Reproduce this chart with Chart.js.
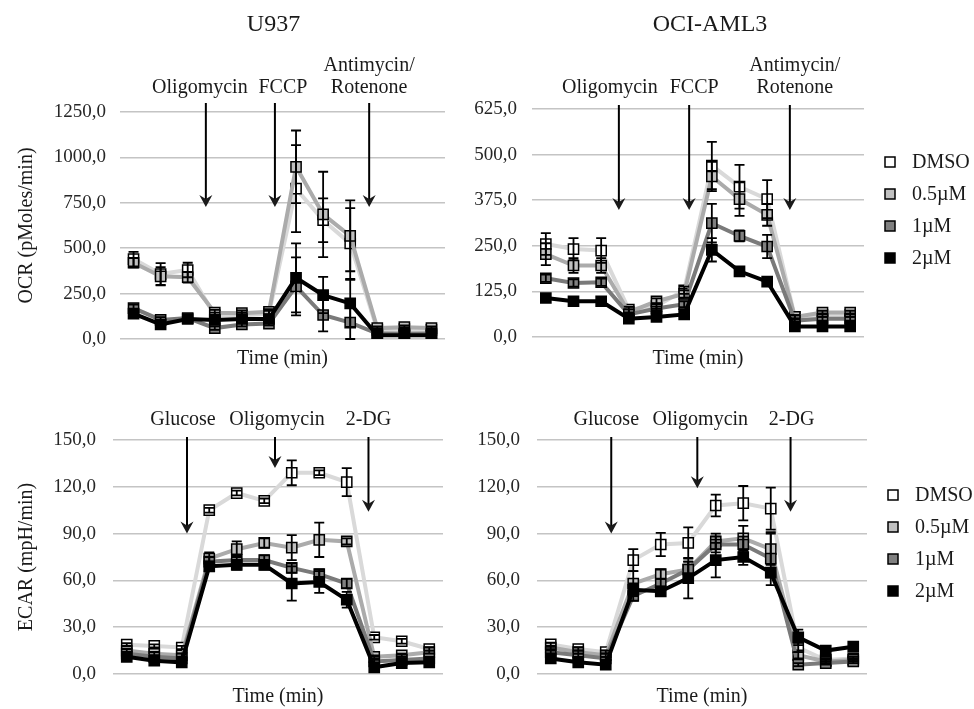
<!DOCTYPE html>
<html>
<head>
<meta charset="utf-8">
<script src="https://cdn.jsdelivr.net/npm/chart.js@4.4.1/dist/chart.umd.min.js"></script>
<style>
  body { margin: 0; background: #fff; }
  #figure { position: relative; width: 974px; height: 709px; background: #fff; }
  #figure canvas { position: absolute; }
</style>
</head>
<body>
<div id="figure">
  <canvas id="ocrU937" width="470" height="372" style="left:0;top:0"></canvas>
  <canvas id="ocrOci" width="504" height="372" style="left:470px;top:0"></canvas>
  <canvas id="ecarU937" width="470" height="337" style="left:0;top:372px"></canvas>
  <canvas id="ecarOci" width="504" height="337" style="left:470px;top:372px"></canvas>
</div>
<script>
// measurement cycles (x axis, not labelled in the figure)
const measurements = ['1', '2', '3', '4', '5', '6', '7', '8', '9', '10', '11', '12'];
const treatmentNames = ['DMSO', '0.5µM', '1µM', '2µM'];

// OCR, U937
const ocrU937Dmso = [440, 358, 380, 130, 130, 140, 828, 654, 526, 50, 55, 50];
const ocrU937Half = [420, 345, 340, 145, 142, 150, 948, 686, 568, 60, 65, 60];
const ocrU937One  = [170, 105, 115, 60, 80, 85, 290, 132, 90, 30, 30, 30];
const ocrU937Two  = [140, 80, 110, 105, 110, 110, 337, 242, 196, 20, 20, 20];
const ocrU937DmsoErr = [40, 60, 40, 15, 15, 15, 240, 120, 195, 10, 10, 10];
const ocrU937HalfErr = [25, 50, 30, 15, 15, 15, 200, 235, 195, 10, 10, 10];
const ocrU937OneErr  = [20, 15, 15, 10, 10, 10, 160, 90, 90, 5, 5, 5];
const ocrU937TwoErr  = [20, 15, 15, 10, 10, 10, 190, 100, 130, 5, 5, 5];
const ocrU937Ticks = [0, 250, 500, 750, 1000, 1250];

// OCR, OCI-AML3
const ocrOciDmso = [255, 241, 237, 75, 85, 128, 470, 412, 378, 55, 60, 60];
const ocrOciHalf = [227, 196, 196, 68, 98, 118, 440, 378, 335, 55, 67, 67];
const ocrOciOne  = [161, 148, 150, 62, 78, 90, 312, 277, 248, 45, 50, 50];
const ocrOciTwo  = [107, 98, 98, 50, 55, 62, 239, 180, 152, 29, 29, 29];
const ocrOciDmsoErr = [30, 30, 34, 8, 8, 10, 65, 60, 52, 5, 5, 5];
const ocrOciHalfErr = [30, 20, 20, 8, 8, 10, 40, 46, 30, 5, 5, 5];
const ocrOciOneErr  = [10, 10, 10, 5, 5, 8, 53, 15, 32, 5, 5, 5];
const ocrOciTwoErr  = [10, 10, 10, 5, 5, 5, 32, 10, 10, 3, 3, 3];
const ocrOciTicks = [0, 125, 250, 375, 500, 625];

// ECAR, U937
const ecarU937Dmso = [18.8, 18, 17, 105, 116, 111, 129, 129, 123, 23.5, 21, 16];
const ecarU937Half = [15, 13, 12, 74, 80, 84, 81, 86, 85, 11, 12, 14];
const ecarU937One  = [13, 11, 10, 72, 73, 73, 68, 64, 58, 8, 9, 10];
const ecarU937Two  = [11, 8.5, 7.5, 69, 70, 70, 58, 59, 47.6, 4.3, 7, 7.5];
const ecarU937DmsoErr = [1, 1, 1, 1.5, 1.5, 1.5, 8, 1.5, 9, 1.5, 1.5, 1];
const ecarU937HalfErr = [1, 1, 1, 4, 5, 3, 8, 11, 2, 1, 1, 1];
const ecarU937OneErr  = [1, 1, 1, 3, 3, 3, 3, 3, 3, 1, 1, 1];
const ecarU937TwoErr  = [1, 1, 1, 3, 3, 3, 11, 7, 5, 1, 1, 1];
const ecarTicks = [0, 30, 60, 90, 120, 150];

// ECAR, OCI-AML3
const ecarOciDmso = [19, 16, 14, 73, 83, 84, 108, 109.5, 106, 17, 9, 10];
const ecarOciHalf = [17, 14, 12, 58, 64, 67, 85, 87, 80, 12, 8, 9];
const ecarOciOne  = [14, 12, 10, 50, 58, 67, 83, 83, 74, 6, 7, 8];
const ecarOciTwo  = [10, 7.5, 6, 54, 53, 61.5, 73, 75, 65, 23.5, 15, 17.5];
const ecarOciDmsoErr = [1, 1, 1, 7, 7.5, 10, 7, 11, 13.5, 3, 1, 1];
const ecarOciHalfErr = [1, 1, 1, 8, 3, 5, 5, 8, 10, 2, 1, 1];
const ecarOciOneErr  = [1, 1, 1, 3, 3, 5, 5, 5, 17, 1, 1, 1];
const ecarOciTwoErr  = [1, 1, 1, 4, 3, 13, 11, 5, 3, 5, 2, 2];

const lineColors = ['#d9d9d9', '#ababab', '#7a7a7a', '#000000'];
const fillColors = ['#ffffff', '#c0c0c0', '#808080', '#000000'];
const serif = '"Liberation Serif", "Times New Roman", serif';
const inkColor = '#1a1a1a';

// vertical error bars, drawn over the lines
const errorBars = {
    id: 'errorBars',
    afterDatasetsDraw(chart) {
        const ctx = chart.ctx;
        const y = chart.scales.y;
        ctx.save();
        ctx.strokeStyle = '#000';
        ctx.lineWidth = 1.8;
        chart.data.datasets.forEach(function (ds, i) {
            const meta = chart.getDatasetMeta(i);
            meta.data.forEach(function (pt, j) {
                const e = ds.errors[j];
                if (!e) return;
                const hi = y.getPixelForValue(ds.data[j] + e);
                const lo = y.getPixelForValue(ds.data[j] - e);
                ctx.beginPath();
                ctx.moveTo(pt.x, hi); ctx.lineTo(pt.x, lo);
                ctx.moveTo(pt.x - 5, hi); ctx.lineTo(pt.x + 5, hi);
                ctx.moveTo(pt.x - 5, lo); ctx.lineTo(pt.x + 5, lo);
                ctx.stroke();
            });
        });
        ctx.restore();
    }
};

// panel heading, drug injection arrows and the side legend
const treatments = {
    id: 'treatments',
    afterDraw(chart, args, opts) {
        const ctx = chart.ctx;
        const area = chart.chartArea;
        const x = chart.scales.x;
        const y = chart.scales.y;
        ctx.save();
        ctx.fillStyle = inkColor;
        ctx.strokeStyle = '#000';
        ctx.textAlign = 'center';
        ctx.textBaseline = 'middle';

        if (opts.heading) {
            ctx.font = '24px ' + serif;
            ctx.fillText(opts.heading, (area.left + area.right) / 2 + opts.headingShift, opts.headingY);
        }

        ctx.font = '20px ' + serif;
        opts.arrows.forEach(function (a) {
            const px = x.getPixelForValue(a.at);
            const top = area.top - opts.arrowRise;
            const tip = y.getPixelForValue(a.tip);
            ctx.lineWidth = 2;
            ctx.beginPath();
            ctx.moveTo(px, top);
            ctx.lineTo(px, tip - 6);
            ctx.stroke();
            ctx.beginPath();
            ctx.moveTo(px, tip);
            ctx.lineTo(px - 6.5, tip - 12);
            ctx.lineTo(px, tip - 8);
            ctx.lineTo(px + 6.5, tip - 12);
            ctx.closePath();
            ctx.fill();
            a.text.forEach(function (line, k) {
                const rise = opts.labelRise + (a.text.length - 1 - k) * 22;
                ctx.fillText(line, px + a.shift, area.top - rise);
            });
        });

        if (opts.legendTop !== null) {
            ctx.textAlign = 'left';
            chart.data.datasets.forEach(function (ds, i) {
                const cy = area.top + opts.legendTop + i * 32;
                const cx = area.right + 26;
                ctx.fillStyle = ds.pointBackgroundColor;
                ctx.fillRect(cx - 5, cy - 5, 10, 10);
                ctx.lineWidth = 1.5;
                ctx.strokeRect(cx - 5, cy - 5, 10, 10);
                ctx.fillStyle = inkColor;
                ctx.fillText(ds.label, area.right + 48, cy + 1);
            });
        }
        ctx.restore();
    }
};

function drawPanel(id, series, errors, ticks, cfg) {
    new Chart(document.getElementById(id), {
        type: 'line',
        data: {
            labels: measurements,
            datasets: series.map(function (values, i) {
                return {
                    label: treatmentNames[i],
                    data: values,
                    errors: errors[i],
                    borderColor: lineColors[i],
                    backgroundColor: fillColors[i],
                    pointBackgroundColor: fillColors[i],
                    pointBorderColor: '#000',
                    pointBorderWidth: 1.5,
                    pointStyle: 'rect',
                    pointRadius: 7.2,
                    borderWidth: 4,
                    tension: 0,
                    order: 3 - i
                };
            })
        },
        options: {
            responsive: false,
            animation: false,
            events: [],
            layout: { padding: { top: cfg.top, right: cfg.right, left: 0, bottom: 0 } },
            plugins: {
                legend: { display: false },
                tooltip: { enabled: false },
                treatments: cfg.notes
            },
            scales: {
                x: {
                    offset: true,
                    grid: { display: false },
                    border: { display: false },
                    ticks: { display: false },
                    title: {
                        display: true,
                        text: 'Time (min)',
                        color: inkColor,
                        font: { family: serif, size: 20 },
                        padding: { top: 0, bottom: cfg.titleBottom }
                    },
                    afterFit: function (s) { s.height = cfg.xHeight; }
                },
                y: {
                    min: ticks[0],
                    max: ticks[ticks.length - 1],
                    afterBuildTicks: function (s) {
                        s.ticks = ticks.map(function (v) { return { value: v }; });
                    },
                    ticks: {
                        color: '#262626',
                        padding: cfg.tickPad,
                        font: { family: serif, size: 19 },
                        callback: function (v) { return v.toFixed(1).replace('.', ','); }
                    },
                    grid: { color: '#c4c4c4', lineWidth: 1.6, drawTicks: false },
                    border: { display: false },
                    title: {
                        display: !!cfg.yTitle,
                        text: cfg.yTitle || '',
                        color: inkColor,
                        font: { family: serif, size: 20 },
                        padding: { top: 15, bottom: 0 }
                    },
                    afterFit: function (s) { s.width = cfg.yWidth; }
                }
            }
        },
        plugins: [errorBars, treatments]
    });
}

drawPanel('ocrU937',
    [ocrU937Dmso, ocrU937Half, ocrU937One, ocrU937Two],
    [ocrU937DmsoErr, ocrU937HalfErr, ocrU937OneErr, ocrU937TwoErr],
    ocrU937Ticks,
    {
        top: 112, right: 25, yWidth: 120, xHeight: 33, tickPad: 14, titleBottom: 1,
        yTitle: 'OCR (pMoles/min)',
        notes: {
            heading: 'U937', headingShift: -9, headingY: 25,
            arrowRise: 9, labelRise: 24, legendTop: null,
            arrows: [
                { at: 2.67, tip: 727, text: ['Oligomycin'], shift: -6 },
                { at: 5.22, tip: 727, text: ['FCCP'], shift: 8 },
                { at: 8.7, tip: 727, text: ['Antimycin/', 'Rotenone'], shift: 0 }
            ]
        }
    });

drawPanel('ocrOci',
    [ocrOciDmso, ocrOciHalf, ocrOciOne, ocrOciTwo],
    [ocrOciDmsoErr, ocrOciHalfErr, ocrOciOneErr, ocrOciTwoErr],
    ocrOciTicks,
    {
        top: 109, right: 110, yWidth: 62, xHeight: 35, tickPad: 15, titleBottom: 1,
        yTitle: null,
        notes: {
            heading: 'OCI-AML3', headingShift: 12, headingY: 25,
            arrowRise: 4, labelRise: 21, legendTop: 53,
            arrows: [
                { at: 2.64, tip: 348, text: ['Oligomycin'], shift: -9 },
                { at: 5.18, tip: 348, text: ['FCCP'], shift: 5 },
                { at: 8.82, tip: 348, text: ['Antimycin/', 'Rotenone'], shift: 5 }
            ]
        }
    });

drawPanel('ecarU937',
    [ecarU937Dmso, ecarU937Half, ecarU937One, ecarU937Two],
    [ecarU937DmsoErr, ecarU937HalfErr, ecarU937OneErr, ecarU937TwoErr],
    ecarTicks,
    {
        top: 68, right: 27, yWidth: 113, xHeight: 35, tickPad: 17, titleBottom: 0,
        yTitle: 'ECAR (mpH/min)',
        notes: {
            heading: null, headingShift: 0, headingY: 0,
            arrowRise: 3, labelRise: 20, legendTop: null,
            arrows: [
                { at: 2.19, tip: 90, text: ['Glucose'], shift: -4 },
                { at: 5.39, tip: 132, text: ['Oligomycin'], shift: 2 },
                { at: 8.79, tip: 104, text: ['2-DG'], shift: 0 }
            ]
        }
    });

drawPanel('ecarOci',
    [ecarOciDmso, ecarOciHalf, ecarOciOne, ecarOciTwo],
    [ecarOciDmsoErr, ecarOciHalfErr, ecarOciOneErr, ecarOciTwoErr],
    ecarTicks,
    {
        top: 68, right: 107, yWidth: 67, xHeight: 35, tickPad: 17, titleBottom: 0,
        yTitle: null,
        notes: {
            heading: null, headingShift: 0, headingY: 0,
            arrowRise: 3, labelRise: 20, legendTop: 55,
            arrows: [
                { at: 2.2, tip: 90, text: ['Glucose'], shift: -5 },
                { at: 5.33, tip: 119, text: ['Oligomycin'], shift: 3 },
                { at: 8.72, tip: 104, text: ['2-DG'], shift: 1 }
            ]
        }
    });
</script>
</body>
</html>
